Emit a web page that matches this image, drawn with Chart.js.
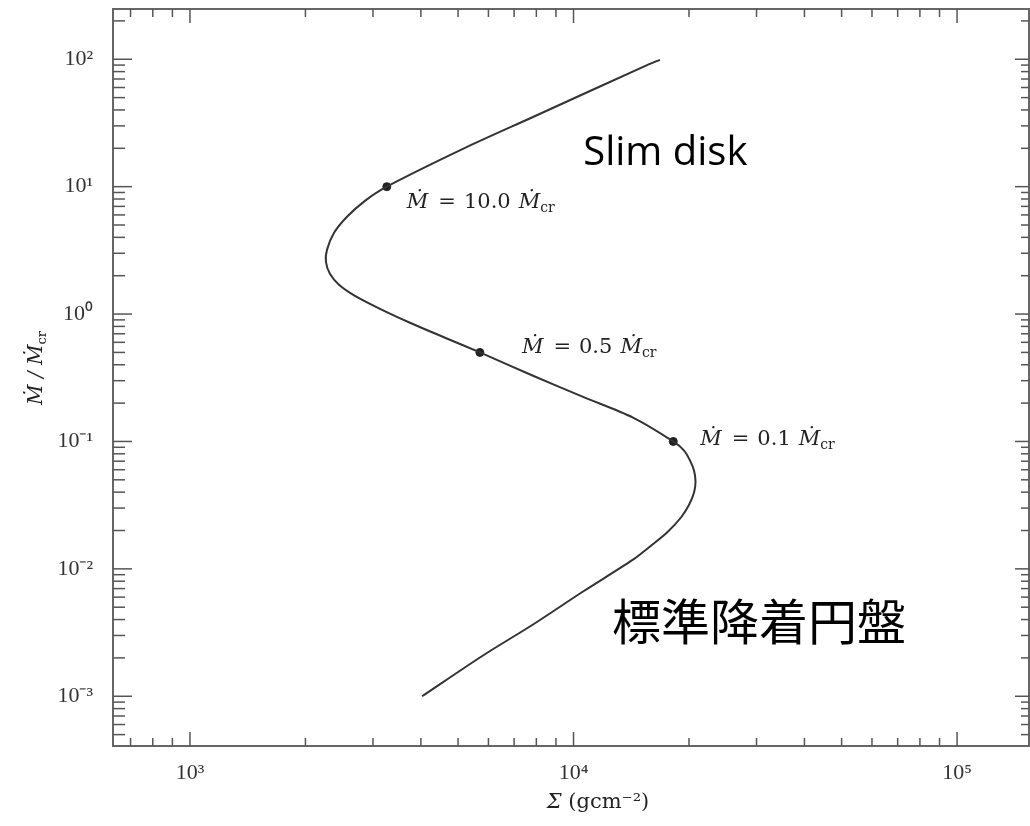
<!DOCTYPE html>
<html lang="ja">
<head>
<meta charset="UTF-8">
<title>S字曲線</title>
<script src="https://cdn.jsdelivr.net/npm/chart.js"></script>
<style>
  html, body { margin: 0; padding: 0; background: #fff; }
  #wrap { width: 1030px; height: 826px; }
</style>
</head>
<body>
<div id="wrap"><canvas id="grafico" width="1030" height="826"></canvas></div>
<script>
  // S-curve: surface density (g cm^-2) vs Mdot / Mdot_cr
  const sigma = [16800, 15550, 7840, 5280, 3260, 2859, 2567, 2375, 2276, 2262, 2317, 2446, 2693, 3129, 3747, 4623, 5700,
                 7843, 10590, 14290, 18200, 19420, 20130, 20620, 20800, 20620, 20010, 19060, 17530, 15830, 14290,
                 10590, 7843, 5808, 4030];
  const mdot = [99, 90, 35.2, 20.5, 10, 7.74, 5.80, 4.34, 3.19, 2.57, 2.07, 1.70, 1.39, 1.10, 0.855, 0.652, 0.5,
                0.328, 0.224, 0.154, 0.1, 0.0847, 0.0707, 0.0590, 0.0484, 0.0397, 0.0319, 0.0253, 0.0193, 0.0150, 0.0118,
                0.00664, 0.00366, 0.00209, 0.001];

  // marked points on the curve
  const markSigma = [3260, 5700, 18200];
  const markMdot = [10, 0.5, 0.1];
  const markLabels = ["10.0", "0.5", "0.1"];

  const xTicks = [1e3, 1e4, 1e5];
  const xTickLabels = ["10³", "10⁴", "10⁵"];
  const yTicks = [1e2, 1e1, 1e0, 1e-1, 1e-2, 1e-3];
  const yTickLabels = ["10²", "10¹", "10⁰", "10⁻¹", "10⁻²", "10⁻³"];

  const notes = [
    { text: "Slim disk", x: 10600, y: 14.8, font: "40px 'Open Sans'" },
    { text: "標準降着円盤", x: 12600, y: 0.00274, font: "49px 'Noto Sans CJK JP'" }
  ];

  const serif = "'DejaVu Serif'";

  function logTicks(min, max) {
    const out = [];
    for (let e = Math.floor(Math.log10(min)); e <= Math.ceil(Math.log10(max)); e++) {
      for (let m = 1; m < 10; m++) {
        const v = m * Math.pow(10, e);
        if (v >= min && v <= max) out.push({ v: v, major: m === 1 });
      }
    }
    return out;
  }

  // draws "Ṁ = 10.0 Ṁcr" style label starting at (x, y) baseline
  function mdotLabel(ctx, x, y, num) {
    ctx.fillStyle = '#222';
    ctx.textBaseline = 'alphabetic';
    ctx.textAlign = 'left';
    ctx.font = "italic 21px " + serif;
    ctx.fillText("Ṁ", x, y);
    x += ctx.measureText("Ṁ").width + 10;
    ctx.font = "21px " + serif;
    ctx.fillText("=", x, y);
    x += ctx.measureText("=").width + 8;
    ctx.fillText(num, x, y);
    x += ctx.measureText(num).width + 8;
    ctx.font = "italic 21px " + serif;
    ctx.fillText("Ṁ", x, y);
    x += ctx.measureText("Ṁ").width;
    ctx.font = "14px " + serif;
    ctx.fillText("cr", x, y + 4);
  }

  const frame = {
    id: 'frame',
    afterDraw(chart) {
      const { ctx, chartArea: a, scales: { x, y } } = chart;
      ctx.save();
      const line = (x1, y1, x2, y2) => { ctx.beginPath(); ctx.moveTo(x1, y1); ctx.lineTo(x2, y2); ctx.stroke(); };

      ctx.strokeStyle = '#666';
      ctx.lineWidth = 2;
      ctx.strokeRect(a.left, a.top, a.right - a.left, a.bottom - a.top);

      ctx.strokeStyle = '#555';
      ctx.lineWidth = 1.5;
      for (const t of logTicks(x.min, x.max)) {
        const px = x.getPixelForValue(t.v);
        const len = t.major ? 14 : 8;
        line(px, a.bottom, px, a.bottom - len);
        line(px, a.top, px, a.top + len);
      }
      for (const t of logTicks(y.min, y.max)) {
        const py = y.getPixelForValue(t.v);
        line(a.left, py, a.left + (t.major ? 19 : 12), py);
        line(a.right, py, a.right - (t.major ? 14 : 8), py);
      }

      // marked point labels
      const offs = [[20, 21], [42, 1], [27, 4]];
      markSigma.forEach((s, i) => {
        mdotLabel(ctx, x.getPixelForValue(s) + offs[i][0], y.getPixelForValue(markMdot[i]) + offs[i][1], markLabels[i]);
      });

      // text notes
      ctx.fillStyle = '#000';
      ctx.textAlign = 'left';
      ctx.textBaseline = 'alphabetic';
      for (const n of notes) {
        ctx.font = n.font;
        ctx.fillText(n.text, x.getPixelForValue(n.x), y.getPixelForValue(n.y));
      }

      // y axis title: Ṁ / Ṁcr
      ctx.translate(42, 368);
      ctx.rotate(-Math.PI / 2);
      ctx.fillStyle = '#222';
      ctx.font = "italic 20px " + serif;
      const w1 = ctx.measureText("Ṁ / Ṁ").width;
      ctx.font = "13px " + serif;
      const w2 = ctx.measureText("cr").width;
      const tx = -(w1 + w2) / 2;
      ctx.font = "italic 20px " + serif;
      ctx.fillText("Ṁ / Ṁ", tx, 0);
      ctx.font = "13px " + serif;
      ctx.fillText("cr", tx + w1, 4);
      ctx.restore();

      // x axis title: Σ (gcm⁻²)
      ctx.save();
      ctx.fillStyle = '#222';
      ctx.textAlign = 'left';
      ctx.textBaseline = 'alphabetic';
      ctx.font = "italic 21px " + serif;
      const ws = ctx.measureText("Σ").width;
      ctx.font = "21px " + serif;
      const wr = ctx.measureText(" (gcm⁻²)").width;
      const sx = a.left + 485 - (ws + wr) / 2;
      ctx.font = "italic 21px " + serif;
      ctx.fillText("Σ", sx, 808);
      ctx.font = "21px " + serif;
      ctx.fillText(" (gcm⁻²)", sx + ws, 808);
      ctx.restore();
    }
  };

  const ctx = document.getElementById("grafico").getContext("2d");
  const grafico = new Chart(ctx, {
    type: 'scatter',
    data: {
      datasets: [
        {
          data: sigma.map((s, i) => ({ x: s, y: mdot[i] })),
          showLine: true,
          borderColor: '#333',
          borderWidth: 2,
          pointRadius: 0,
          tension: 0.3
        },
        {
          data: markSigma.map((s, i) => ({ x: s, y: markMdot[i] })),
          showLine: false,
          pointRadius: 4,
          pointBackgroundColor: '#222',
          pointBorderColor: '#222'
        }
      ]
    },
    plugins: [frame],
    options: {
      responsive: false,
      animation: false,
      layout: { autoPadding: false, padding: { top: 9, right: 1, left: 0, bottom: 0 } },
      plugins: { legend: { display: false }, tooltip: { enabled: false } },
      scales: {
        x: {
          type: 'logarithmic',
          min: 630,
          max: 154000,
          grid: { display: false },
          border: { display: false },
          afterBuildTicks: s => { s.ticks = xTicks.map(v => ({ value: v })); },
          afterFit: s => { s.height = 80; s.paddingLeft = 0; s.paddingRight = 0; },
          ticks: {
            padding: 6,
            color: '#333',
            font: { family: 'Liberation Serif', size: 22 },
            callback: v => xTickLabels[xTicks.indexOf(v)] || ''
          }
        },
        y: {
          type: 'logarithmic',
          min: 4.07e-4,
          max: 248,
          grid: { display: false },
          border: { display: false },
          afterBuildTicks: s => { s.ticks = yTicks.map(v => ({ value: v })); },
          afterFit: s => { s.width = 113; s.paddingTop = 0; s.paddingBottom = 0; },
          ticks: {
            padding: 12,
            color: '#333',
            font: { family: 'Liberation Serif', size: 22 },
            callback: v => yTickLabels[yTicks.indexOf(v)] || ''
          }
        }
      }
    }
  });
</script>
</body>
</html>
